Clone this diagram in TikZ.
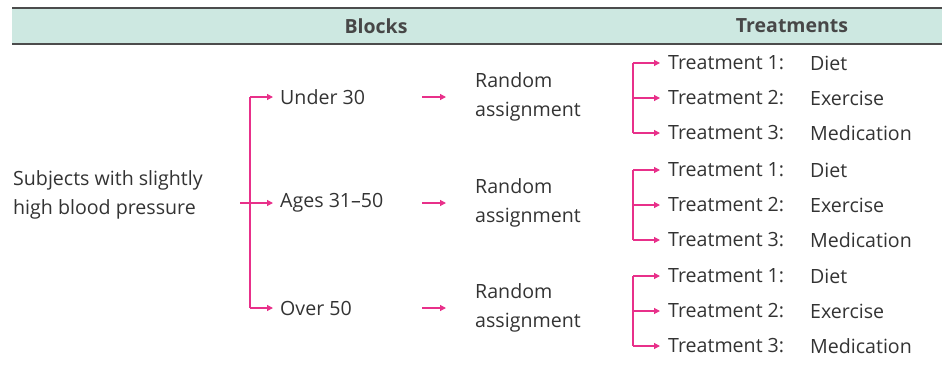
\documentclass[tikz,border=0pt]{standalone}
\usepackage{fontspec}
\setmainfont{Open Sans}
\usetikzlibrary{arrows.meta}
\definecolor{mag}{HTML}{E8308A}
\definecolor{hdr}{HTML}{CDE8E1}
\definecolor{txt}{HTML}{333333}
\begin{document}
\begin{tikzpicture}[x=1pt,y=-1pt,
  lbl/.style={font=\fontsize{19.6}{29}\selectfont, text=txt, inner sep=0pt, anchor=west},
  hlbl/.style={font=\fontsize{19.5}{23}\selectfont\bfseries, text=txt!90, inner sep=0pt},
  conn/.style={draw=mag, line width=1.2pt},
  arr/.style={conn, -{Triangle[length=6pt,width=6pt]}}]
\useasboundingbox (0,0) rectangle (942,367);
\fill[hdr] (12,8) rectangle (942,44);
\draw[line width=1.5pt, draw=black!70] (12,8) -- (942,8);
\draw[line width=1.5pt, draw=black!70] (12,44) -- (942,44);
\node[hlbl] (hb) at (376,26) {Blocks};
\node[hlbl] (ht) at (792,26) {Treatments};
\node[lbl, align=left] (subj) at (13,195) {Subjects with slightly\\high blood pressure};
\coordinate (st) at (240,203);
\coordinate (vt) at (250,97);
\coordinate (vb) at (250,308);
\draw[conn] (vt) -- (vb);
\foreach \y/\name/\txt in {97/b1/Under 30, 203/b2/Ages 31--50, 308/b3/Over 50}{
  \node[lbl] (\name) at (280,\y) {\txt};
  \coordinate (\name s) at (250,\y);
  \coordinate (\name e) at (273,\y);
  \coordinate (\name a) at (422,\y);
  \coordinate (\name b) at (446,\y);
  \node[lbl, align=left] (\name r) at (475,\y) {Random\\assignment};
  \draw[arr] (\name a) -- (\name b);
}
\draw[arr] (st) -- (b2e);
\draw[arr] (b1s) -- (b1e);
\draw[arr] (b3s) -- (b3e);
\foreach \g/\y in {1/63, 2/170, 3/276}{
  \coordinate (v\g t) at (633,\y);
  \coordinate (v\g b) at (633,\y+70);
  \draw[conn] (v\g t) -- (v\g b);
  \foreach \k/\w in {1/Diet, 2/Exercise, 3/Medication}{
    \pgfmathsetmacro\yy{\y+(\k-1)*35}
    \node[lbl] (t\g\k) at (668,\yy) {Treatment \k:};
    \node[lbl] (d\g\k) at (810,\yy) {\w};
    \coordinate (s\g\k) at (633,\yy);
    \coordinate (e\g\k) at (660,\yy);
    \draw[arr] (s\g\k) -- (e\g\k);
  }
}
\end{tikzpicture}
\end{document}
